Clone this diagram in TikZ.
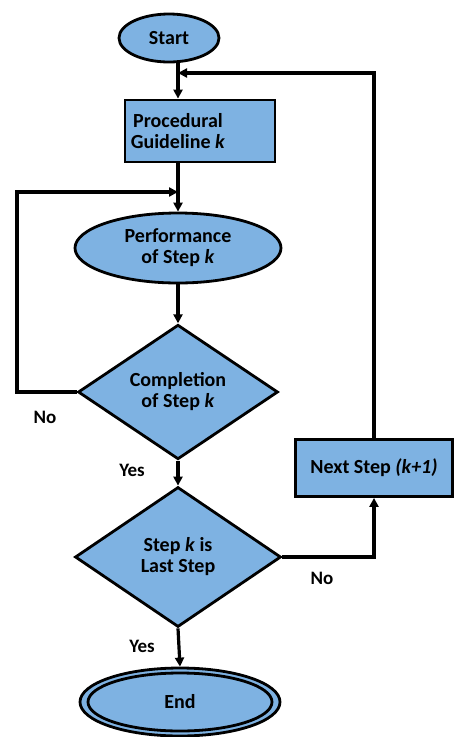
\documentclass[tikz,border=0pt]{standalone}
\usepackage{fontspec}
\setmainfont{Carlito}
\usetikzlibrary{shapes.geometric,arrows.meta}
\definecolor{fillblue}{RGB}{126,178,226}
\begin{document}
\begin{tikzpicture}[x=1pt,y=-1pt,
  every node/.style={font=\bfseries\fontsize{20}{21}\selectfont,align=center},
  shp/.style={draw=black,line width=2.8pt,fill=fillblue,inner sep=0pt},
  oval/.style={shp,ellipse},
  boxn/.style={shp,rectangle},
  dia/.style={shp,diamond},
  conn/.style={line width=3.2pt,-{Triangle[length=9pt,width=9pt]}},
  lbl/.style={font=\bfseries\fontsize{19}{20}\selectfont}]
\useasboundingbox (0,0) rectangle (455,737);
\node[oval,minimum width=100pt,minimum height=48pt] (start) at (169,38) {Start};
\node[boxn,minimum width=150pt,minimum height=62pt] (box) at (200,131) {};
\node (ptext) at (178,131) {Procedural\\Guideline \textit{k}};
\node[oval,minimum width=206pt,minimum height=70pt] (perf) at (178,248) {Performance\\of Step \textit{k}};
\node[dia,minimum width=200pt,minimum height=130pt] (d1) at (178,392) {Completion\\of Step \textit{k}};
\node[dia,minimum width=206pt,minimum height=140pt] (d2) at (178,557) {Step \textit{k} is\\Last Step};
\node[boxn,minimum width=157pt,minimum height=57pt] (next) at (374,468) {Next Step \textit{(k+1)}};
\node[oval,minimum width=200pt,minimum height=68pt] (end) at (180,702) {};
\draw[line width=2.8pt] (end.center) ellipse (92pt and 29pt);
\node (endtext) at (end.center) {End};
\coordinate (join) at (178,73);
\coordinate (loopL) at (17,192);
\draw[conn] (start.south -| perf.north) -- (box.north -| perf.north);
\draw[conn] (next.north) -- (next.north |- join) -- (join);
\draw[conn] (box.south -| perf.north) -- (perf.north);
\draw[conn] (d1.west) -| (loopL) -- (loopL -| perf.north);
\draw[conn] (perf.south) -- (d1.north);
\draw[conn] (d1.south) -- (d2.north);
\draw[conn] (d2.east) -| (next.south);
\draw[conn] (d2.south) -- (end.north);
\node[lbl] (no1) at (45,417) {No};
\node[lbl] (yes1) at (132,470) {Yes};
\node[lbl] (no2) at (322,578) {No};
\node[lbl] (yes2) at (142,646) {Yes};
\end{tikzpicture}
\end{document}
